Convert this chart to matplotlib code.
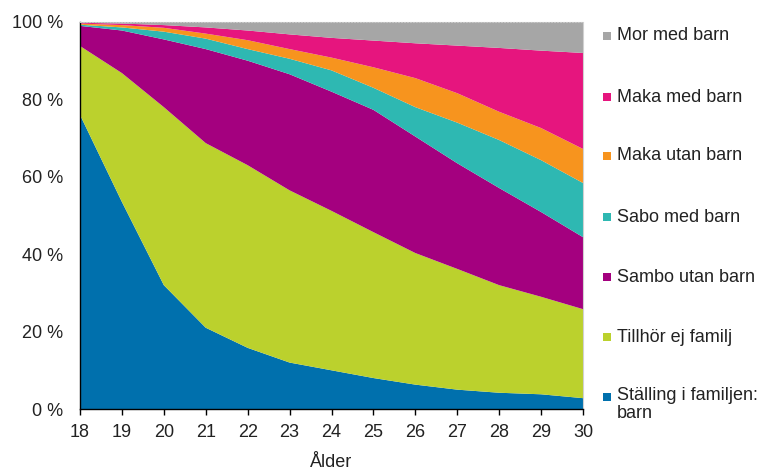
import matplotlib
matplotlib.use("Agg")
import matplotlib.pyplot as plt
from matplotlib.patches import Rectangle
import numpy as np

plt.rcParams['font.family'] = ['Liberation Sans', 'DejaVu Sans']

ages = [18, 19, 20, 21, 22, 23, 24, 25, 26, 27, 28, 29, 30]

stalling_barn = [76, 53.5, 32, 21, 15.8, 12, 10, 8, 6.3, 5, 4.2, 3.8, 2.8]
tillhor_ej = [17.8, 33.3, 46, 47.7, 47.2, 44.5, 41.2, 37.7, 34, 31.2, 27.8, 25.2, 23]
sambo_utan = [5.2, 11, 17.5, 24.3, 27, 30, 30.8, 31.6, 30.1, 27.3, 25.1, 21.9, 18.6]
sabo_med = [0.3, 0.8, 2, 2.7, 3, 4, 5.5, 5.7, 7.6, 10.5, 12.4, 13.4, 14]
maka_utan = [0.3, 0.6, 1, 1.3, 2.3, 2.5, 3.3, 5.3, 7.5, 7.6, 7.3, 8.3, 8.8]
maka_med = [0.2, 0.4, 0.7, 1.6, 2.5, 3.8, 5.1, 6.9, 9, 12.3, 16.5, 20, 24.8]
mor_med = [0.2, 0.4, 0.8, 1.4, 2.2, 3.2, 4.1, 4.8, 5.5, 6.1, 6.7, 7.4, 8]

series = [stalling_barn, tillhor_ej, sambo_utan, sabo_med, maka_utan, maka_med, mor_med]
labels = ["Ställing i familjen:\nbarn", "Tillhör ej familj", "Sambo utan barn",
          "Sabo med barn", "Maka utan barn", "Maka med barn", "Mor med barn"]
colors = ["#0070AD", "#BBD12D", "#A4007F", "#2EB8B2", "#F7941E", "#E6157E", "#A6A6A6"]

yticks = [0, 20, 40, 60, 80, 100]
ytick_labels = ["0 %", "20 %", "40 %", "60 %", "80 %", "100 %"]

TXT = '#222222'
W, H = 767, 475
fig = plt.figure(figsize=(W / 100, H / 100), dpi=100)
ax = fig.add_axes([80 / W, (H - 409) / H, (583 - 80) / W, (409 - 22) / H])

ax.stackplot(ages, *series, colors=colors, linewidth=0)

ax.set_xlim(18, 30)
ax.set_ylim(0, 100)
ax.set_xticks(ages)
ax.set_xticklabels([str(a) for a in ages], fontsize=13, color=TXT)
ax.set_yticks(yticks)
ax.set_yticklabels(ytick_labels, fontsize=13, color=TXT)
ax.tick_params(axis='x', length=4.5, width=1, pad=6, color='black')
ax.tick_params(axis='y', length=0, pad=12)
ax.set_xlabel("Ålder", fontsize=13, labelpad=10, color=TXT)

for s in ['left', 'bottom']:
    ax.spines[s].set_color('black')
    ax.spines[s].set_linewidth(1)
ax.spines['top'].set_color('#c8c8c8')
ax.spines['top'].set_linestyle(':')
ax.spines['right'].set_color('#d0d0d0')
ax.spines['right'].set_linewidth(0.8)
ax.set_zorder(1)

# Legend (manual, top to bottom)
ycent = [36, 97, 156, 217, 277, 337, 397]
order = list(range(len(series)))[::-1]
for yc, idx in zip(ycent, order):
    rect = Rectangle(((603) / W, (H - yc - 4) / H), 8 / W, 8 / H,
                     transform=fig.transFigure, facecolor=colors[idx], edgecolor='none')
    fig.patches.append(rect)
    lab = labels[idx]
    if "\n" in lab:
        fig.text(617 / W, (H - yc + 10) / H, lab, fontsize=13, va='top', ha='left',
                 linespacing=1.05, color=TXT)
    else:
        fig.text(617 / W, (H - yc) / H, lab, fontsize=13, va='center', ha='left',
                 color=TXT)

fig.savefig("out.png", dpi=100)
